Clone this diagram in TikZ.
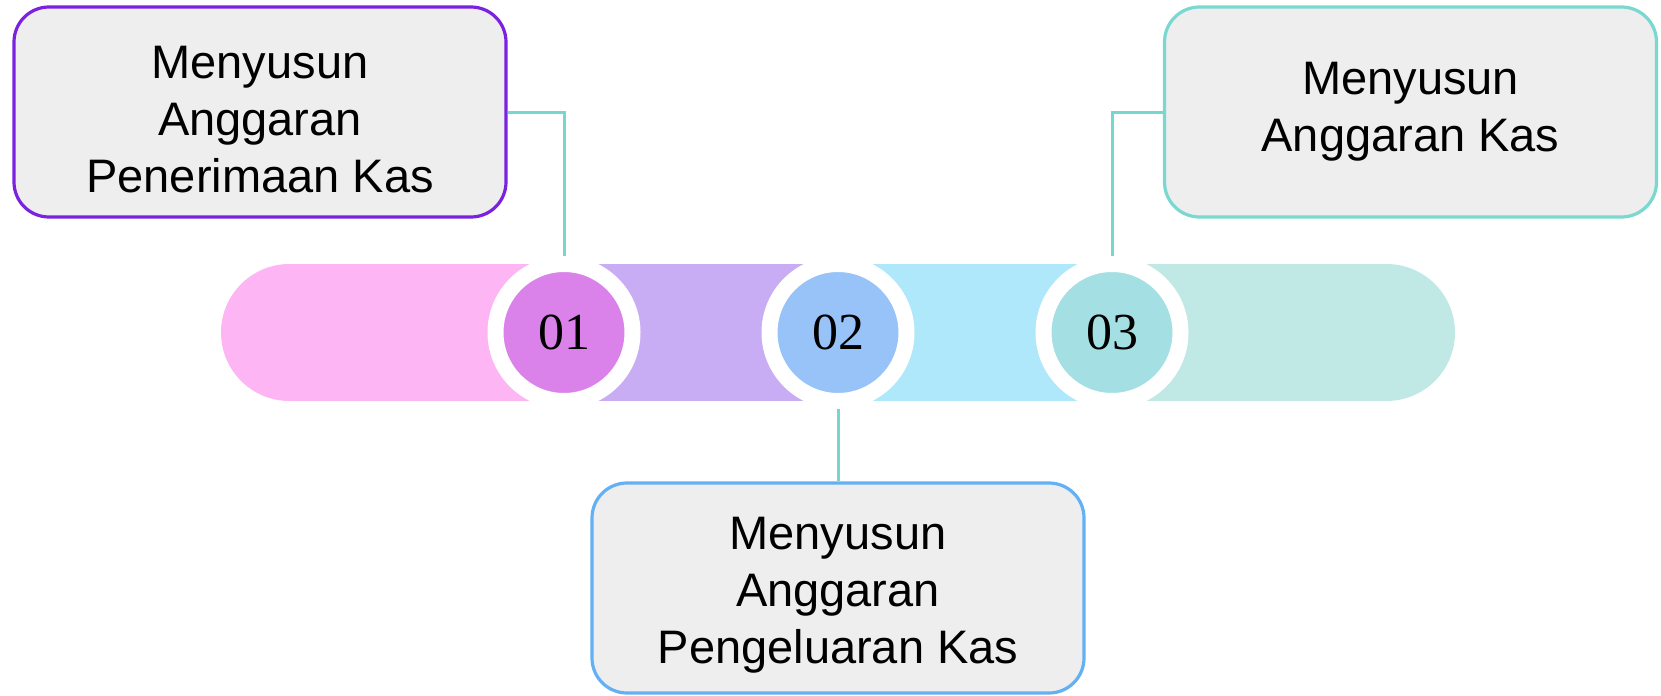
\documentclass[tikz,border=0pt]{standalone}
\usepackage{fontspec}
\setmainfont{Liberation Sans}
\newfontfamily\numfont{Liberation Serif}
\definecolor{boxgray}{RGB}{238,238,238}
\definecolor{boxviolet}{RGB}{122,34,224}
\definecolor{boxblue}{RGB}{100,176,244}
\definecolor{boxteal}{RGB}{121,217,208}
\definecolor{linkteal}{RGB}{118,215,207}
\definecolor{barpink}{RGB}{253,181,243}
\definecolor{barpurple}{RGB}{201,173,244}
\definecolor{barblue}{RGB}{175,232,251}
\definecolor{barteal}{RGB}{192,233,229}
\definecolor{numpink}{RGB}{219,130,234}
\definecolor{numblue}{RGB}{151,195,249}
\definecolor{numteal}{RGB}{164,224,227}
\usetikzlibrary{positioning, calc}

\begin{document}
\begin{tikzpicture}[x=0.5pt, y=-0.5pt,
    stepbox/.style={draw, line width=1.6pt, fill=boxgray, rounded corners=17.5pt,
      minimum width=246pt, minimum height=105pt, inner sep=0pt, align=center,
      font=\fontsize{23.5}{28.5}\selectfont},
    threeline/.style={text height=80.5pt},
    stepnum/.style={circle, draw=white, line width=8pt, minimum size=68.5pt,
      inner sep=0pt, font=\numfont\fontsize{26}{26}\selectfont},
    link/.style={draw=linkteal, line width=1.5pt}]
    \useasboundingbox (0,0) rectangle (1661,696);

    \fill[barpink] (289.5,264) rectangle (564,401);
    \fill[barpink] (289.5,332.5) circle[radius=68.5];
    \fill[barpurple] (564,264) rectangle (838,401);
    \fill[barblue] (838,264) rectangle (1112,401);
    \fill[barteal] (1112,264) rectangle (1386.5,401);
    \fill[barteal] (1386.5,332.5) circle[radius=68.5];

    \node[stepnum, fill=numpink] (n1) at (564,332.5) {01};
    \node[stepnum, fill=numblue] (n2) at (838,332.5) {02};
    \node[stepnum, fill=numteal] (n3) at (1112,332.5) {03};

    \node[stepbox, threeline, draw=boxviolet] (box1) at (260,112) {Menyusun\\Anggaran\\Penerimaan Kas};
    \node[stepbox, threeline, draw=boxblue] (box2) at (838,588) {Menyusun\\Anggaran\\Pengeluaran Kas};
    \node[stepbox, draw=boxteal] (box3) at (1410.5,112) {Menyusun\\Anggaran Kas};

    \draw[link] (box1.east) -| (n1.north);
    \draw[link] (n2.south) -- (box2.north);
    \draw[link] (box3.west) -| (n3.north);
\end{tikzpicture}
\end{document}
